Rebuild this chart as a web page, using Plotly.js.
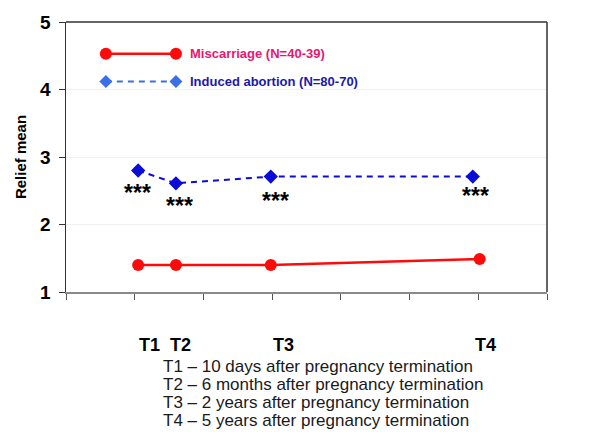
<!DOCTYPE html>
<html>
<head>
<meta charset="utf-8">
<script src="https://cdn.plot.ly/plotly-3.0.1.min.js"></script>
<style>html,body{margin:0;padding:0;background:#fff;}#chart{width:600px;height:442px;}</style>
</head>
<body>
<div id="chart"></div>
<script>
// ---- data ----
var timeLabels = ["T1", "T2", "T3", "T4"];
var miscarriageX = [1.05, 1.6, 2.98, 6.02];
var miscarriageY = [1.40, 1.40, 1.40, 1.49];
var abortionX = [1.05, 1.6, 2.98, 5.92];
var abortionY = [2.80, 2.61, 2.71, 2.71];
var significance = ["***", "***", "***", "***"];
var seriesNames = ["Miscarriage (N=40-39)", "Induced abortion (N=80-70)"];
var footnotes = [
  "T1 \u2013 10 days after pregnancy termination",
  "T2 \u2013 6 months after pregnancy termination",
  "T3 \u2013 2 years after pregnancy termination",
  "T4 \u2013 5 years after pregnancy termination"
];

// ---- layout config ----
var labelX = [1.21, 1.67, 3.16, 6.1];
var sigShift = [{x: -1, y: -7}, {x: 4, y: -8}, {x: 5, y: -9}, {x: 3, y: -4}];
var legendKey = {x: [0.58, 1.6], y: [4.53, 4.12], textX: 1.78};

var red = "#ff0a0a";
var blue = "#0c0cd8";
var lightBlue = "#3b6fe8";
var FONT = "Arial, Liberation Sans, sans-serif";

var traces = [
  {x: miscarriageX, y: miscarriageY, mode: "lines+markers", name: seriesNames[0],
   line: {color: red, width: 2.5}, marker: {symbol: "circle", size: 12, color: red},
   hoverinfo: "x+y"},
  {x: abortionX, y: abortionY, mode: "lines+markers", name: seriesNames[1],
   line: {color: blue, width: 2, dash: "6px,5px"}, marker: {symbol: "diamond", size: 11, color: blue},
   hoverinfo: "x+y"},
  // legend keys
  {x: legendKey.x, y: [legendKey.y[0], legendKey.y[0]], mode: "lines+markers",
   line: {color: red, width: 2.5}, marker: {symbol: "circle", size: 12, color: red}, hoverinfo: "skip"},
  {x: legendKey.x, y: [legendKey.y[1], legendKey.y[1]], mode: "lines+markers",
   line: {color: lightBlue, width: 2, dash: "6px,5px"}, marker: {symbol: "diamond", size: 10, color: lightBlue}, hoverinfo: "skip"}
];

var annotations = [];
annotations.push({x: legendKey.textX, y: legendKey.y[0], xref: "x", yref: "y", text: "<b>" + seriesNames[0] + "</b>",
  showarrow: false, xanchor: "left", yanchor: "middle", font: {family: FONT, size: 13, color: "#e8176e"}});
annotations.push({x: legendKey.textX, y: legendKey.y[1], xref: "x", yref: "y", text: "<b>" + seriesNames[1] + "</b>",
  showarrow: false, xanchor: "left", yanchor: "middle", font: {family: FONT, size: 13, color: "#1a1aa8"}});
for (var i = 0; i < abortionX.length; i++) {
  annotations.push({x: abortionX[i], y: abortionY[i], xref: "x", yref: "y", text: "<b>" + significance[i] + "</b>",
    showarrow: false, xanchor: "center", yanchor: "top", xshift: sigShift[i].x, yshift: sigShift[i].y,
    font: {family: FONT, size: 23, color: "#000"}});
}
var plotTop = 22, plotBottom = 292, plotLeft = 66, plotRight = 547;
function px2paperY(p) { return (plotBottom - p) / (plotBottom - plotTop); }
function px2paperX(p) { return (p - plotLeft) / (plotRight - plotLeft); }
for (var j = 0; j < timeLabels.length; j++) {
  annotations.push({x: labelX[j], y: px2paperY(345), xref: "x", yref: "paper", text: "<b>" + timeLabels[j] + "</b>",
    showarrow: false, xanchor: "center", yanchor: "middle",
    font: {family: FONT, size: 18, color: "#000"}});
}
for (var k = 0; k < footnotes.length; k++) {
  annotations.push({x: px2paperX(161), y: px2paperY(366 + k * 18), xref: "paper", yref: "paper", text: footnotes[k],
    showarrow: false, xanchor: "left", yanchor: "middle",
    font: {family: FONT, size: 17, color: "#1a1a1a"}});
}

var layout = {
  width: 600, height: 442,
  margin: {l: plotLeft, r: 600 - plotRight, t: plotTop, b: 442 - plotBottom},
  paper_bgcolor: "#fff", plot_bgcolor: "#fff",
  showlegend: false,
  font: {family: FONT},
  xaxis: {range: [0, 7], dtick: 1, tick0: 0, showgrid: false, zeroline: false,
    showline: true, linecolor: "#8a8a8a", linewidth: 2,
    ticks: "outside", ticklen: 6, tickcolor: "#555", tickwidth: 1, showticklabels: false},
  yaxis: {range: [1, 5], dtick: 1, showgrid: true, gridcolor: "#f1f1f1", zeroline: false,
    showline: true, linecolor: "#333", linewidth: 1.5,
    ticks: "outside", ticklen: 6, tickcolor: "#333",
    tickfont: {family: FONT, size: 19, color: "#000", weight: "bold"},
    ticklabelstandoff: 4,
    title: {text: "<b>Relief mean</b>", standoff: 10, font: {family: FONT, size: 15, color: "#000"}}},
  shapes: [
    {type: "line", xref: "paper", yref: "paper", x0: 0, x1: 1, y0: 1, y1: 1, line: {color: "#333", width: 1.5}},
    {type: "line", xref: "paper", yref: "paper", x0: 1, x1: 1, y0: 0, y1: 1, line: {color: "#333", width: 1.5}}
  ],
  annotations: annotations
};

Plotly.newPlot("chart", traces, layout, {displayModeBar: false, staticPlot: true});
</script>
</body>
</html>
